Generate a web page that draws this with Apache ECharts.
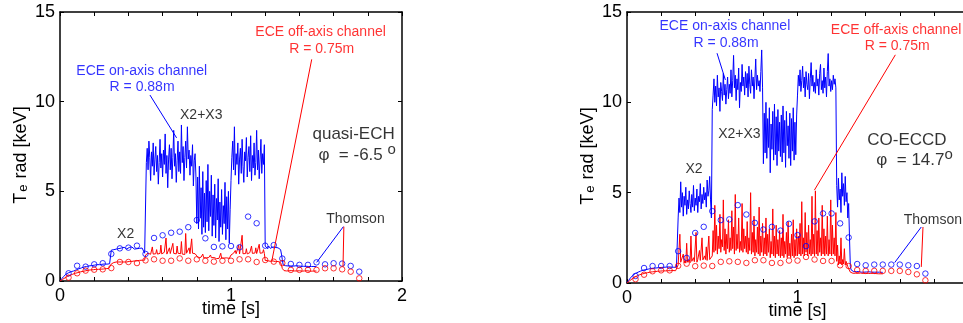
<!DOCTYPE html>
<html>
<head>
<meta charset="utf-8">
<title>ECE Te rad</title>
<script src="https://cdn.jsdelivr.net/npm/echarts@6/dist/echarts.min.js"></script>
<style>
html, body { margin: 0; padding: 0; background: #fff; }
#chart-div { width: 963px; height: 323px; }
</style>
</head>
<body>
<div id="chart-div"></div>
<script>
// ECE traces are sampled every 5 ms from 0 to 1.5 s (301 samples, 20 per row = 0.1 s)
const traceStep = 0.005
const traceCount = 301

// quasi-ECH, on-axis channel R = 0.88m
const leftOnAxis = [
  0, 0.06, 0.12, 0.18, 0.24, 0.3, 0.34, 0.38, 0.42, 0.44, 0.46, 0.48, 0.5, 0.52, 0.53, 0.55, 0.56, 0.58, 0.6, 0.62,
  0.64, 0.66, 0.68, 0.7, 0.72, 0.73, 0.75, 0.76, 0.78, 0.79, 0.8, 0.81, 0.82, 0.83, 0.84, 0.85, 0.85, 0.86, 0.87, 0.88,
  0.88, 0.9, 0.89, 0.91, 0.9, 0.92, 0.91, 0.93, 0.92, 0.93, 0.94, 0.93, 0.95, 0.94, 0.95, 0.94, 0.96, 0.95, 0.96, 0.97,
  1.72, 1.78, 1.82, 1.75, 1.8, 1.85, 1.78, 1.83, 1.76, 1.81, 1.86, 1.79, 1.84, 1.77, 1.82, 1.88, 1.8, 1.85, 1.78, 1.83,
  1.81, 1.87, 1.79, 1.84, 1.9, 1.82, 1.86, 1.78, 1.83, 1.88, 1.8, 1.85, 1.91, 1.82, 1.87, 1.79, 1.84, 1.8, 1.76, 1.55,
  1.52, 6.6, 7.4, 6.2, 7.8, 6.9, 5.6, 7.2, 6.4, 7.7, 5.9, 6.8, 7.5, 6.1, 7.0, 5.4, 6.6, 7.9, 6.3, 7.1,
  5.8, 7.3, 6.5, 8.2, 6.0, 7.0, 5.2, 6.8, 7.6, 6.2, 7.4, 5.7, 6.9, 8.4, 6.4, 7.1, 5.5, 6.7, 7.8, 6.1,
  7.2, 6.0, 8.7, 6.6, 7.5, 5.6, 6.9, 7.8, 6.3, 8.6, 6.8, 7.3, 5.9, 7.0, 6.4, 7.6, 5.3, 6.7, 7.1, 5.8,
  3.2, 5.8, 2.9, 6.4, 3.5, 5.2, 2.6, 6.1, 3.0, 4.9, 2.7, 5.6, 3.3, 6.5, 2.8, 5.0, 3.6, 5.9, 2.5, 4.8,
  3.1, 5.4, 2.4, 4.6, 3.4, 5.7, 2.2, 4.4, 3.0, 5.1, 2.6, 4.2, 3.2, 5.5, 2.3, 4.7, 2.9, 5.0, 2.1, 4.0,
  5.6, 6.9, 7.8, 6.2, 8.6, 5.9, 7.1, 6.5, 7.7, 5.4, 6.8, 7.4, 6.0, 7.9, 6.4, 5.5, 7.2, 6.7, 8.0, 5.8,
  6.9, 7.5, 6.1, 8.1, 5.6, 7.0, 6.3, 7.7, 5.9, 6.6, 8.4, 6.2, 7.3, 5.7, 6.8, 7.9, 6.0, 7.1, 6.5, 7.6,
  1.95, 1.85, 1.9, 1.8, 1.95, 1.88, 1.82, 1.92, 1.86, 1.9, 1.8, 1.94, 1.87, 1.83, 1.91, 1.85, 1.9, 1.82, 1.75, 1.5,
  1.2, 0.9, 0.86, 0.84, 0.85, 0.83, 0.86, 0.84, 0.85, 0.83, 0.84, 0.86, 0.85, 0.83, 0.84, 0.82, 0.85, 0.84, 0.83, 0.84,
  0.83, 0.84, 0.82, 0.83, 0.84, 0.82, 0.83, 0.81, 0.82, 0.83, 0.82, 0.81, 0.82, 0.83, 0.81, 0.82, 0.8, 0.81, 0.82, 0.8,
  0.8
]

// quasi-ECH, off-axis channel R = 0.75m
const leftOffAxis = [
  0, 0.03, 0.06, 0.09, 0.12, 0.15, 0.18, 0.21, 0.24, 0.26, 0.28, 0.3, 0.32, 0.34, 0.36, 0.38, 0.4, 0.41, 0.43, 0.44,
  0.46, 0.47, 0.48, 0.5, 0.51, 0.52, 0.53, 0.54, 0.55, 0.56, 0.57, 0.58, 0.59, 0.6, 0.6, 0.61, 0.62, 0.62, 0.63, 0.63,
  0.64, 0.64, 0.65, 0.65, 0.66, 0.65, 0.66, 0.67, 0.66, 0.67, 0.68, 0.67, 0.68, 0.68, 0.69, 0.68, 0.69, 0.7, 0.69, 0.7,
  0.95, 1.02, 1.04, 1.03, 1.05, 1.04, 1.06, 1.05, 1.04, 1.06, 1.05, 1.07, 1.06, 1.05, 1.07, 1.06, 1.08, 1.07, 1.06, 1.08,
  1.07, 1.09, 1.08, 1.1, 1.09, 1.11, 1.1, 1.12, 1.11, 1.13, 1.12, 1.14, 1.13, 1.15, 1.14, 1.15, 1.16, 1.15, 1.17, 1.16,
  1.45, 1.52, 1.48, 1.55, 1.5, 1.62, 1.49, 1.53, 1.9, 1.5, 1.56, 1.47, 1.52, 1.75, 1.5, 1.58, 1.49, 1.54, 2.0, 1.51,
  1.55, 1.48, 1.6, 1.52, 2.4, 1.5, 1.56, 1.49, 1.85, 1.53, 1.58, 1.5, 2.1, 1.54, 1.49, 1.62, 1.51, 1.95, 1.55, 1.5,
  1.57, 1.52, 2.2, 1.5, 1.6, 1.53, 1.48, 2.65, 1.55, 1.5, 1.58, 1.85, 1.52, 1.49, 2.35, 1.55, 1.5, 1.6, 1.52, 1.56,
  1.4, 1.32, 1.28, 1.35, 1.3, 1.33, 1.27, 1.5, 1.3, 1.26, 1.32, 1.29, 1.34, 1.28, 1.31, 1.27, 1.45, 1.3, 1.26, 1.29,
  1.31, 1.27, 1.3, 1.25, 1.29, 1.32, 1.26, 1.28, 1.55, 1.27, 1.3, 1.25, 1.28, 1.31, 1.26, 1.29, 1.27, 1.3, 1.26, 1.28,
  1.45, 1.5, 1.48, 1.55, 1.5, 1.7, 1.52, 1.49, 1.56, 2.0, 1.51, 1.54, 1.5, 2.55, 1.52, 1.57, 1.5, 1.53, 1.8, 1.51,
  1.55, 1.5, 1.58, 1.52, 1.95, 1.54, 1.6, 1.52, 1.56, 1.85, 1.53, 1.58, 1.5, 2.05, 1.55, 1.6, 1.52, 1.57, 1.75, 1.54,
  1.15, 1.12, 1.1, 1.13, 1.09, 1.12, 1.1, 1.11, 1.08, 1.12, 1.09, 1.11, 1.08, 1.1, 1.07, 1.09, 1.08, 1.06, 1.02, 0.9,
  0.7, 0.6, 0.58, 0.57, 0.58, 0.56, 0.57, 0.58, 0.57, 0.56, 0.57, 0.58, 0.56, 0.57, 0.56, 0.57, 0.58, 0.56, 0.57, 0.56,
  0.57, 0.56, 0.57, 0.55, 0.56, 0.57, 0.56, 0.55, 0.56, 0.57, 0.55, 0.56, 0.55, 0.56, 0.57, 0.55, 0.56, 0.55, 0.56, 0.55,
  0.55
]

// CO-ECCD, on-axis channel R = 0.88m
const rightOnAxis = [
  0, 0.08, 0.15, 0.22, 0.28, 0.34, 0.39, 0.43, 0.47, 0.5, 0.53, 0.56, 0.58, 0.6, 0.62, 0.64, 0.66, 0.68, 0.69, 0.71,
  0.72, 0.73, 0.74, 0.75, 0.76, 0.77, 0.78, 0.79, 0.8, 0.8, 0.81, 0.82, 0.82, 0.83, 0.83, 0.84, 0.84, 0.85, 0.85, 0.86,
  0.86, 0.87, 0.86, 0.87, 0.88, 0.87, 0.88, 0.87, 0.88, 0.89, 0.88, 0.87, 0.88, 0.89, 0.88, 0.87, 0.88, 0.87, 0.88, 0.87,
  3.6, 4.7, 3.9, 5.6, 4.2, 5.0, 3.7, 4.8, 4.3, 5.3, 3.8, 4.6, 4.1, 5.1, 4.4, 3.9, 4.9, 4.2, 5.4, 4.0,
  4.7, 4.3, 5.2, 3.9, 4.8, 4.5, 5.5, 4.1, 4.9, 4.4, 5.3, 4.6, 5.0, 4.2, 5.7, 4.8, 5.1, 5.9, 4.6, 3.6,
  9.6, 10.4, 11.3, 10.0, 10.9, 9.8, 11.5, 10.3, 10.8, 9.5, 11.1, 10.6, 10.1, 11.6, 10.4, 11.0, 9.9, 10.7, 11.4, 10.2,
  11.0, 10.5, 11.8, 10.3, 11.2, 12.6, 10.8, 11.5, 10.1, 11.3, 10.7, 11.9, 9.7, 11.1, 10.6, 12.1, 10.9, 11.4, 10.4, 11.7,
  10.8, 11.6, 10.3, 12.0, 11.0, 10.5, 11.8, 10.9, 11.4, 10.2, 11.3, 12.4, 10.7, 11.5, 10.9, 11.2, 10.6, 11.7, 12.9, 10.8,
  6.6, 9.4, 7.2, 10.0, 6.9, 9.1, 7.5, 9.7, 6.1, 8.8, 7.4, 9.5, 6.8, 9.9, 7.1, 9.2, 6.5, 9.6, 7.3, 8.9,
  7.0, 9.3, 6.7, 9.8, 7.2, 9.0, 6.4, 9.5, 7.6, 8.7, 6.9, 9.4, 6.5, 9.1, 7.3, 9.7, 6.8, 8.9, 7.1, 9.3,
  10.4, 11.5, 10.9, 11.8, 10.6, 11.2, 12.0, 10.8, 11.4, 10.3, 11.7, 11.0, 10.7, 11.6, 10.2, 11.3, 12.2, 10.9, 11.5, 10.6,
  11.1, 10.5, 11.8, 10.9, 11.3, 10.4, 11.6, 12.1, 10.7, 11.2, 10.5, 11.9, 10.8, 11.4, 10.3, 11.7, 12.7, 10.9, 11.3, 10.6,
  11.2, 10.7, 11.5, 11.0, 11.3, 10.8, 5.4, 4.2, 5.8, 4.6, 5.2, 3.9, 6.1, 4.8, 5.5, 4.3, 5.9, 4.5, 5.0, 3.6,
  4.4, 2.5, 0.9, 0.72, 0.66, 0.64, 0.63, 0.64, 0.62, 0.63, 0.61, 0.62, 0.63, 0.61, 0.62, 0.6, 0.61, 0.62, 0.6, 0.61,
  0.6, 0.61, 0.6, 0.61, 0.62, 0.6, 0.61, 0.6, 0.61, 0.59, 0.6, 0.61, 0.59, 0.6, 0.61, 0.59, 0.6, 0.59, 0.6, 0.59,
  0.59
]

// CO-ECCD, off-axis channel R = 0.75m
const rightOffAxis = [
  0, 0.04, 0.08, 0.12, 0.16, 0.2, 0.23, 0.26, 0.29, 0.32, 0.35, 0.37, 0.4, 0.42, 0.44, 0.46, 0.47, 0.49, 0.5, 0.52,
  0.53, 0.54, 0.55, 0.56, 0.57, 0.58, 0.59, 0.6, 0.6, 0.61, 0.62, 0.62, 0.63, 0.63, 0.64, 0.64, 0.65, 0.65, 0.65, 0.66,
  0.66, 0.66, 0.67, 0.66, 0.67, 0.67, 0.68, 0.67, 0.68, 0.67, 0.68, 0.68, 0.67, 0.68, 0.69, 0.68, 0.69, 0.68, 0.69, 0.7,
  1.0, 1.1, 2.7, 1.15, 1.2, 1.1, 1.6, 1.12, 1.25, 1.1, 2.2, 1.15, 1.18, 1.3, 1.12, 2.6, 1.2, 1.15, 1.4, 1.18,
  1.22, 2.8, 1.15, 1.3, 1.2, 1.8, 1.25, 1.17, 2.5, 1.28, 1.2, 1.5, 1.3, 2.0, 1.25, 1.35, 2.6, 1.3, 1.4, 1.25,
  1.5, 2.9, 1.7, 4.3, 1.8, 3.2, 1.6, 2.6, 1.9, 3.8, 1.7, 2.4, 2.0, 4.6, 1.8, 3.0, 1.6, 2.7, 1.9, 3.5,
  1.7, 2.5, 1.8, 4.0, 1.9, 3.1, 1.6, 4.9, 1.8, 2.7, 1.9, 3.6, 1.7, 2.3, 1.8, 4.4, 1.7, 3.0, 1.9, 2.6,
  1.7, 3.4, 1.6, 2.5, 1.8, 5.0, 1.6, 2.8, 1.7, 3.7, 1.5, 2.4, 1.7, 3.1, 1.6, 4.2, 1.5, 2.6, 1.7, 3.3,
  1.5, 2.5, 1.6, 3.6, 1.5, 2.7, 1.7, 3.0, 1.4, 2.3, 1.6, 4.1, 1.5, 2.6, 1.4, 3.2, 1.6, 2.4, 1.5, 2.9,
  1.4, 2.5, 1.5, 3.8, 1.4, 2.3, 1.6, 2.8, 1.4, 3.4, 1.5, 2.2, 1.4, 2.7, 1.5, 3.5, 1.4, 2.4, 1.5, 3.0,
  1.5, 2.6, 1.6, 3.3, 1.5, 4.5, 1.6, 2.5, 1.5, 3.9, 1.7, 2.8, 1.5, 3.2, 1.6, 2.4, 1.5, 4.8, 1.6, 2.7,
  1.5, 5.1, 1.6, 2.9, 1.5, 3.6, 1.7, 2.5, 1.5, 4.3, 1.6, 3.0, 1.5, 2.6, 1.6, 3.7, 1.5, 2.4, 1.6, 4.6,
  1.5, 3.2, 1.6, 2.5, 1.5, 3.9, 1.2, 2.1, 1.0, 1.5, 1.05, 2.5, 1.0, 1.3, 1.05, 1.9, 1.0, 1.2, 1.1, 0.9,
  0.95, 0.8, 0.6, 0.56, 0.55, 0.54, 0.55, 0.53, 0.54, 0.55, 0.53, 0.54, 0.53, 0.54, 0.55, 0.53, 0.54, 0.53, 0.54, 0.53,
  0.54, 0.53, 0.52, 0.53, 0.54, 0.52, 0.53, 0.52, 0.53, 0.54, 0.52, 0.53, 0.52, 0.53, 0.52, 0.51, 0.52, 0.53, 0.51, 0.52,
  0.51
]

// Thomson scattering points, every 50 ms
const thomsonTime = [0.05, 0.1, 0.15, 0.2, 0.25, 0.3, 0.35, 0.4, 0.45, 0.5, 0.55, 0.6, 0.65, 0.7, 0.75, 0.8, 0.85, 0.9,
  0.95, 1.0, 1.05, 1.1, 1.15, 1.2, 1.25, 1.3, 1.35, 1.4, 1.45, 1.5, 1.55, 1.6, 1.65, 1.7, 1.75]
const leftThomsonOn = [0.43, 0.85, 0.8, 0.93, 0.99, 1.51, 1.82, 1.86, 1.97, 1.51, 2.4, 2.55, 2.69, 2.75, 3.0, 3.4, 2.38, 1.9,
  1.93, 1.95, 1.88, 3.59, 3.22, 1.97, 2.0, 1.25, 0.95, 0.9, 0.9, 1.04, 0.93, 0.99, 0.97, 0.84, 0.52]
const leftThomsonOff = [0.19, 0.43, 0.58, 0.63, 0.65, 0.72, 1.06, 1.06, 1.0, 1.15, 1.21, 1.13, 1.13, 1.26, 1.13, 1.21, 1.13, 1.08,
  1.13, 1.13, 1.21, 1.21, 1.06, 1.17, 1.08, 1.0, 0.62, 0.62, 0.62, 0.62, 0.71, 0.71, 0.65, 0.52, 0.15]
const rightThomsonOn = [0.39, 0.83, 0.94, 0.94, 0.94, 1.76, 1.39, 2.77, 3.11, 3.98, 3.48, 3.52, 4.31, 3.79, 3.33, 2.96, 3.11, 2.9,
  3.28, 2.65, 2.04, 3.41, 3.85, 3.85, 3.3, 2.52, 1.05, 0.98, 1.02, 1.02, 1.02, 1.02, 0.98, 0.94, 0.52]
const rightThomsonOff = [0.21, 0.46, 0.65, 0.7, 0.7, 0.95, 1.07, 0.93, 0.96, 0.94, 1.17, 1.2, 1.17, 1.11, 1.26, 1.26, 1.11, 1.11,
  1.24, 1.24, 1.44, 1.3, 1.22, 1.22, 0.98, 0.94, 0.72, 0.67, 0.67, 0.67, 0.67, 0.67, 0.61, 0.48, 0.15]

const BLUE = '#0000ff'
const RED = '#ff0000'
const FONT = 'Liberation Sans, Arial, sans-serif'

const traceTime = Array.from({ length: traceCount }, (_, i) => +(i * traceStep).toFixed(3))
const pairs = (xs, ys) => ys.map((v, i) => [xs[i], v])

// texts and leader lines (data coordinates)
const leftNotes = [
  { text: 'ECE on-axis channel', at: [0.478, 11.7], color: BLUE, size: 14 },
  { text: 'R = 0.88m', at: [0.48, 10.8], color: BLUE, size: 14 },
  { text: 'X2+X3', at: [0.826, 9.26], color: '#000', size: 14 },
  { text: 'X2', at: [0.384, 2.6], color: '#000', size: 14 },
  { text: 'ECE off-axis channel', at: [1.524, 13.87], color: RED, size: 14 },
  { text: 'R = 0.75m', at: [1.53, 12.92], color: RED, size: 14 },
  { text: 'quasi-ECH', at: [1.717, 8.2], color: '#000', size: 17 },
  { text: '{m|\u03c6  = -6.5 }{s|o}', at: [1.511, 7.03], color: '#000', size: 17, align: 'left' },
  { text: 'Thomson', at: [1.728, 3.44], color: '#000', size: 14 }
]
const leftLeaders = [
  { from: [0.526, 10.37], to: [0.682, 7.98], color: BLUE },
  { from: [1.472, 12.36], to: [1.238, 1.08], color: RED },
  { from: [1.657, 3.03], to: [1.501, 1.04], color: BLUE },
  { from: [1.66, 3.03], to: [1.655, 0.8], color: RED }
]
const rightNotes = [
  { text: 'ECE on-axis channel', at: [0.574, 14.2], color: BLUE, size: 14 },
  { text: 'R = 0.88m', at: [0.581, 13.28], color: BLUE, size: 14 },
  { text: 'X2+X3', at: [0.659, 8.23], color: '#000', size: 14 },
  { text: 'X2', at: [0.393, 6.29], color: '#000', size: 14 },
  { text: 'ECE off-axis channel', at: [1.578, 14.0], color: RED, size: 14 },
  { text: 'R = 0.75m', at: [1.585, 13.09], color: RED, size: 14 },
  { text: 'CO-ECCD', at: [1.642, 7.91], color: '#000', size: 17 },
  { text: '{m|\u03c6  = 14.7}{s|o}', at: [1.462, 6.8], color: '#000', size: 17, align: 'left' },
  { text: 'Thomson', at: [1.794, 3.48], color: '#000', size: 14 }
]
const rightLeaders = [
  { from: [0.528, 12.72], to: [0.577, 11.24], color: BLUE },
  { from: [1.574, 12.63], to: [1.099, 5.14], color: RED },
  { from: [1.726, 3.1], to: [1.57, 1.13], color: BLUE },
  { from: [1.736, 3.1], to: [1.726, 0.89], color: RED }
]

function xAxisFor(gridIndex, onTop) {
  return {
    type: 'value', gridIndex: gridIndex, position: onTop ? 'top' : 'bottom',
    min: 0, max: 2, interval: 1,
    name: onTop ? '' : 'time [s]', nameLocation: 'middle', nameGap: 19, nameMoveOverlap: false,
    nameTextStyle: { fontSize: 18, color: '#000', fontFamily: FONT, verticalAlign: 'top' },
    axisLine: { show: true, onZero: false, lineStyle: { color: '#000', width: 1.5 } },
    axisTick: { show: true, inside: true, length: 4, lineStyle: { color: '#000' } },
    minorTick: { show: true, splitNumber: 5, length: 4, lineStyle: { color: '#000' } },
    axisLabel: { show: !onTop, fontSize: 18, color: '#000', fontFamily: FONT, margin: 6 },
    splitLine: { show: false }
  }
}

function yAxisFor(gridIndex, onRight) {
  return {
    type: 'value', gridIndex: gridIndex, position: onRight ? 'right' : 'left',
    min: 0, max: 15, interval: 5,
    name: onRight ? '' : '{a|T}{b|e}{a| rad [keV]}', nameLocation: 'middle', nameGap: 30, nameMoveOverlap: false,
    nameTextStyle: {
      color: '#000', fontFamily: FONT, padding: [0, 17, 0, 0],
      rich: {
        a: { fontSize: 18, color: '#000', fontFamily: FONT },
        b: { fontSize: 13, color: '#000', fontFamily: FONT, padding: [5, 1, 0, 1] }
      }
    },
    axisLine: { show: true, onZero: false, lineStyle: { color: '#000', width: 1.5 } },
    axisTick: { show: true, inside: true, length: 4, lineStyle: { color: '#000' } },
    axisLabel: { show: !onRight, fontSize: 18, color: '#000', fontFamily: FONT, margin: 5 },
    splitLine: { show: false }
  }
}

function traceSeries(axis, values, color) {
  return {
    type: 'line', xAxisIndex: axis, yAxisIndex: axis,
    data: pairs(traceTime, values),
    showSymbol: false, symbol: 'none', sampling: null,
    lineStyle: { color: color, width: 1 },
    silent: true, animation: false
  }
}

function thomsonSeries(axis, values, color) {
  return {
    type: 'scatter', xAxisIndex: axis, yAxisIndex: axis,
    data: pairs(thomsonTime, values),
    symbol: 'circle', symbolSize: 5.5,
    itemStyle: { color: 'rgba(0,0,0,0)', borderColor: color, borderWidth: 1 },
    silent: true, animation: false, z: 4
  }
}

function noteSeries(axis, notes, leaders) {
  return {
    type: 'scatter', xAxisIndex: axis, yAxisIndex: axis,
    symbolSize: 0, silent: true, animation: false, z: 5,
    data: notes.map(n => ({
      value: n.at,
      label: {
        show: true, formatter: n.text, position: [0, 0],
        align: n.align || 'center', verticalAlign: 'middle',
        color: n.color, fontSize: n.size, fontFamily: FONT,
        rich: {
          m: { fontSize: 17, color: '#000', fontFamily: FONT },
          s: { fontSize: 15, color: '#000', fontFamily: FONT, padding: [0, 0, 10, 0] }
        }
      }
    })),
    markLine: {
      silent: true, animation: false, symbol: ['none', 'none'],
      label: { show: false },
      data: leaders.map(l => [
        { coord: l.from, lineStyle: { color: l.color, width: 1, type: 'solid' } },
        { coord: l.to }
      ])
    }
  }
}

const myChart = echarts.init(document.getElementById('chart-div'))

const option = {
  animation: false,
  backgroundColor: '#fff',
  textStyle: { fontFamily: FONT },
  grid: [
    { left: 60, top: 12, width: 342, height: 269, outerBoundsMode: 'none', containLabel: false },
    { left: 627, top: 12, width: 341, height: 271, outerBoundsMode: 'none', containLabel: false }
  ],
  xAxis: [xAxisFor(0, false), xAxisFor(0, true), xAxisFor(1, false), xAxisFor(1, true)],
  yAxis: [yAxisFor(0, false), yAxisFor(0, true), yAxisFor(1, false), yAxisFor(1, true)],
  series: [
    traceSeries(0, leftOnAxis, BLUE),
    traceSeries(0, leftOffAxis, RED),
    thomsonSeries(0, leftThomsonOn, BLUE),
    thomsonSeries(0, leftThomsonOff, RED),
    noteSeries(0, leftNotes, leftLeaders),
    traceSeries(2, rightOnAxis, BLUE),
    traceSeries(2, rightOffAxis, RED),
    thomsonSeries(2, rightThomsonOn, BLUE),
    thomsonSeries(2, rightThomsonOff, RED),
    noteSeries(2, rightNotes, rightLeaders)
  ]
}

myChart.setOption(option)
</script>
</body>
</html>
